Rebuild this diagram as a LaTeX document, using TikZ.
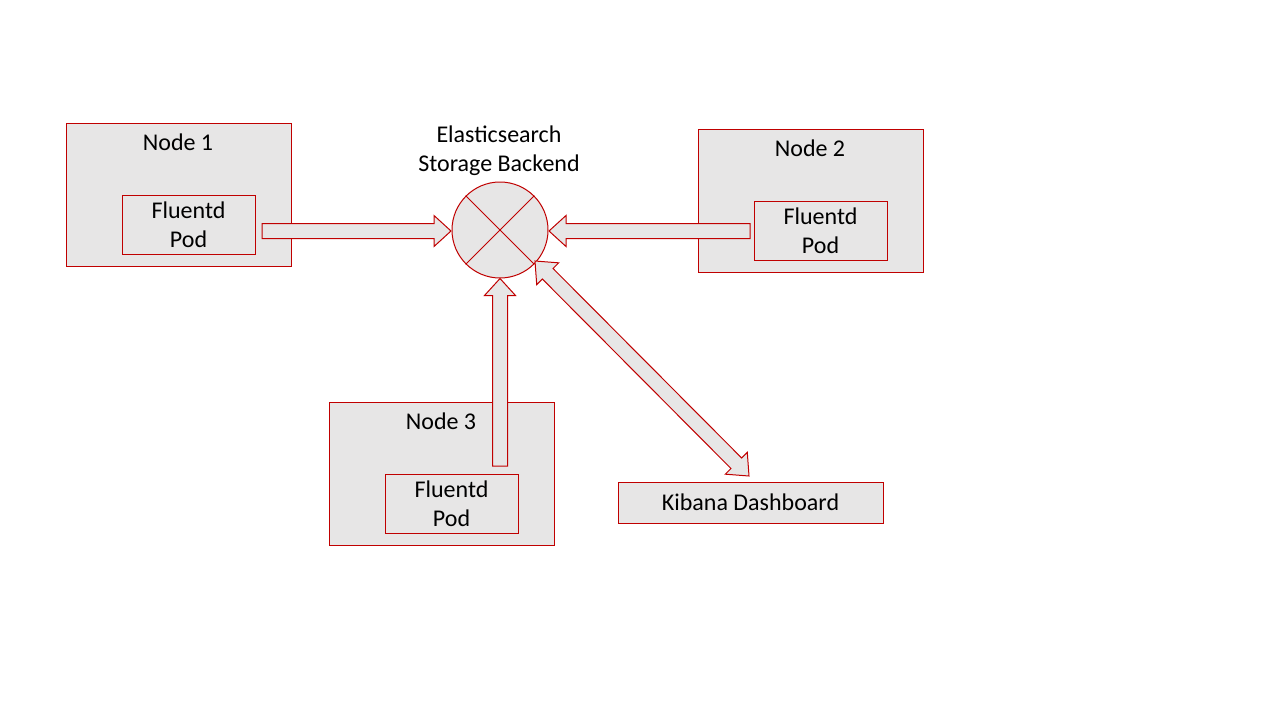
\documentclass[tikz,border=0pt]{standalone}
\usepackage{fontspec}
\setmainfont{Carlito}
\usetikzlibrary{calc}
\definecolor{bred}{HTML}{C00000}
\definecolor{bgray}{HTML}{E7E6E6}
\tikzset{
  boxstyle/.style={draw=bred, fill=bgray, line width=1pt, inner sep=0pt},
  nodebox/.style={boxstyle, minimum width=225pt, minimum height=143pt},
  podbox/.style={boxstyle, minimum width=133pt, minimum height=59pt, align=center, font=\fontsize{24}{29}\selectfont},
  txt/.style={font=\fontsize{24}{29}\selectfont, align=center, inner sep=0pt},
  arrowstyle/.style={draw=bred, fill=bgray, line width=1pt, line join=miter}
}
\newcommand\blockarrowdraw[2]{%
  \coordinate (hbtmp) at ($(#2)!17pt!(#1)$);
  \draw[arrowstyle] ($(#1)!7.5pt!90:(#2)$) -- ($(hbtmp)!7.5pt!90:(#2)$) -- ($(hbtmp)!15.5pt!90:(#2)$) -- (#2)
    -- ($(hbtmp)!15.5pt!-90:(#2)$) -- ($(hbtmp)!7.5pt!-90:(#2)$) -- ($(#1)!7.5pt!-90:(#2)$) -- cycle;
}
\newcommand\doubleblockarrowdraw[2]{%
  \coordinate (hbtmpa) at ($(#2)!18pt!(#1)$);
  \coordinate (hbtmpb) at ($(#1)!18pt!(#2)$);
  \draw[arrowstyle] (#1) -- ($(hbtmpb)!15.5pt!90:(#2)$) -- ($(hbtmpb)!7.5pt!90:(#2)$) -- ($(hbtmpa)!7.5pt!90:(#2)$) -- ($(hbtmpa)!15.5pt!90:(#2)$) -- (#2)
    -- ($(hbtmpa)!15.5pt!-90:(#2)$) -- ($(hbtmpa)!7.5pt!-90:(#2)$) -- ($(hbtmpb)!7.5pt!-90:(#2)$) -- ($(hbtmpb)!15.5pt!-90:(#2)$) -- cycle;
}
\begin{document}
\begin{tikzpicture}[x=1pt,y=-1pt]
\useasboundingbox (0,0) rectangle (1280,720);
% Node boxes
\node[nodebox] (n1) at (178.5,194.5) {};
\node[txt] (n1t) at (178,142) {Node 1};
\node[nodebox] (n2) at (810.5,200.5) {};
\node[txt] (n2t) at (810,148) {Node 2};
\node[nodebox] (n3) at (441.5,473.5) {};
\node[txt] (n3t) at (441,421) {Node 3};
% Elasticsearch
\node[circle, boxstyle, minimum size=96pt] (es) at (500,230) {};
\draw[draw=bred, line width=1pt] (es.45) -- (es.225) (es.135) -- (es.315);
\node[txt] (est) at (499,151) {Elasticsearch\\Storage Backend};
% Kibana
\node[boxstyle, minimum width=265pt, minimum height=41pt, font=\fontsize{24}{29}\selectfont] (kb) at (750.5,502.5) {Kibana Dashboard};
% Arrow endpoints
\coordinate (a1s) at (262,231);
\coordinate (a1e) at (451,231);
\coordinate (a2s) at (750,231);
\coordinate (a2e) at (549,231);
\coordinate (a3s) at (500,466);
\coordinate (a4s) at (535,261);
\coordinate (a4e) at (749,476);
\blockarrowdraw{a1s}{a1e}
\blockarrowdraw{a2s}{a2e}
\blockarrowdraw{a3s}{es.south}
\doubleblockarrowdraw{a4s}{a4e}
% Pods
\node[podbox] (f1) at (188.5,224.5) {Fluentd\\Pod};
\node[podbox] (f2) at (820.5,230.5) {Fluentd\\Pod};
\node[podbox] (f3) at (451.5,503.5) {Fluentd\\Pod};
\end{tikzpicture}
\end{document}
